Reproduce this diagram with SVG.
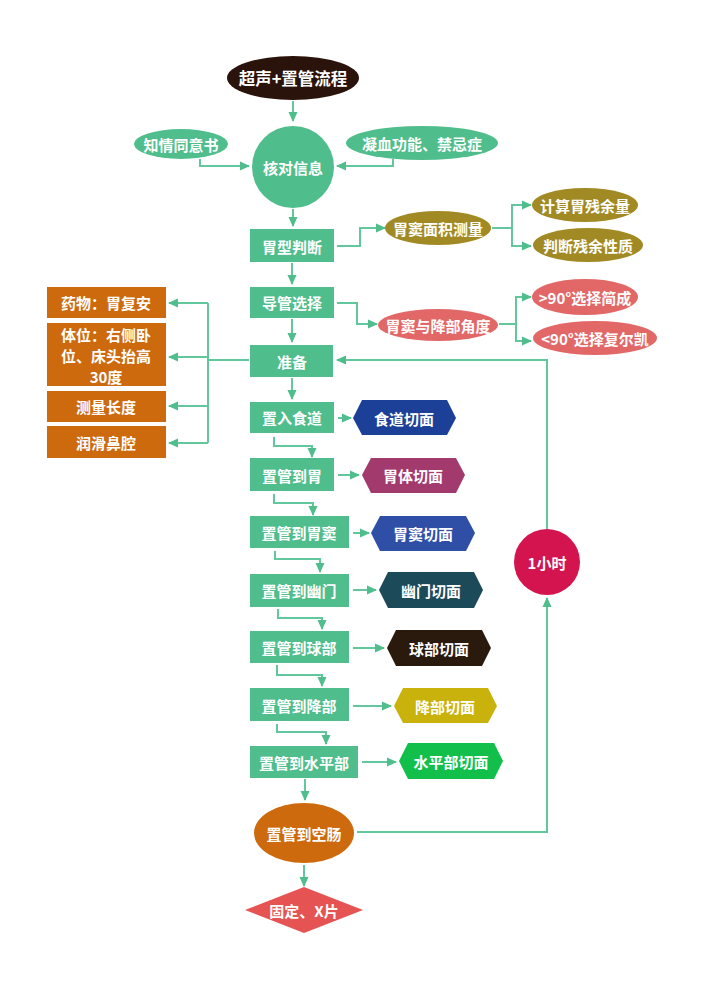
<svg xmlns="http://www.w3.org/2000/svg" width="706" height="988" viewBox="0 0 706 988">
<style>
text{font-family:"Noto Sans CJK SC","Noto Sans",sans-serif;font-weight:bold;font-size:15px;fill:#ffffff;text-anchor:middle;dominant-baseline:central}
.big{font-size:16.5px}
.g{fill:#4fbd8c}
.o{fill:#cd6a0d}
.ol{fill:#a18a24}
.pk{fill:#e26868}
.c{fill:none;stroke:#62c79d;stroke-width:2}
.ca{fill:none;stroke:#62c79d;stroke-width:2;marker-end:url(#ah)}
</style>
<defs>
<marker id="ah" viewBox="0 0 10 10" refX="9" refY="5" markerWidth="10" markerHeight="10" markerUnits="userSpaceOnUse" orient="auto"><path d="M0,0.5 L10,5 L0,9.5 z" fill="#4fbd8c"/></marker>
</defs>
<rect width="706" height="988" fill="#ffffff"/>
<g id="connectors">
<path class="ca" d="M293,101 L293,121"/>
<path class="ca" d="M200,159 L200,166 L249,166"/>
<path class="ca" d="M393,159 L393,166 L337,166"/>
<path class="ca" d="M293,209 L293,226"/>
<path class="ca" d="M292,263 L292,284"/>
<path class="ca" d="M292,319 L292,342"/>
<path class="ca" d="M292,378 L292,399"/>
<path class="ca" d="M337,246 L360,246 L360,228 L385,228"/>
<path class="ca" d="M492,228 L512,228 L512,205 L531,205"/>
<path class="ca" d="M512,228 L512,246 L531,246"/>
<path class="ca" d="M337,303 L357,303 L357,324 L377,324"/>
<path class="ca" d="M499,324 L516,324 L516,297 L531,297"/>
<path class="ca" d="M516,324 L516,341 L531,341"/>
<path class="c" d="M249,360 L208,360"/>
<path class="c" d="M208,303 L208,443"/>
<path class="ca" d="M208,303 L169,303"/>
<path class="ca" d="M208,357 L169,357"/>
<path class="ca" d="M208,406 L169,406"/>
<path class="ca" d="M208,443 L169,443"/>
<path class="ca" d="M338,418 L351,418"/>
<path class="ca" d="M338,475 L359,475"/>
<path class="ca" d="M353,533 L369,533"/>
<path class="ca" d="M353,590 L376,590"/>
<path class="ca" d="M353,648 L384,648"/>
<path class="ca" d="M353,706 L391,706"/>
<path class="ca" d="M362,762 L396,762"/>
<path class="ca" d="M274,437 L274,446 L312,446 L312,457"/>
<path class="ca" d="M274,494 L274,503 L313,503 L313,515"/>
<path class="ca" d="M275,551 L275,559 L320,559 L320,572"/>
<path class="ca" d="M278,609 L278,618 L322,618 L322,629"/>
<path class="ca" d="M277,665 L277,675 L322,675 L322,686"/>
<path class="ca" d="M277,724 L277,732 L326,732 L326,744"/>
<path class="ca" d="M305,779 L305,800"/>
<path class="ca" d="M357,832 L547,832 L547,598"/>
<path class="ca" d="M547,529 L547,360 L337,360"/>
<path class="ca" d="M304,865 L304,886"/>
</g>
<g id="n-start"><ellipse cx="293" cy="78" rx="66" ry="22" fill="#2a130a"/><text class="big" x="293" y="78">超声+置管流程</text></g>
<g id="n-consent"><ellipse cx="181" cy="144" rx="47" ry="15" class="g"/><text x="181" y="144">知情同意书</text></g>
<g id="n-coag"><ellipse cx="422" cy="143" rx="76" ry="17" class="g"/><text x="422" y="143">凝血功能、禁忌症</text></g>
<g id="n-check"><circle cx="293" cy="167" r="41" class="g"/><text x="293" y="167">核对信息</text></g>
<g id="n-type"><rect x="250" y="229" width="84" height="33" class="g"/><text x="292" y="246">胃型判断</text></g>
<g id="n-area"><ellipse cx="438" cy="228" rx="53" ry="17" class="ol"/><text x="438" y="228">胃窦面积测量</text></g>
<g id="n-calc"><ellipse cx="585" cy="205" rx="53" ry="17" class="ol"/><text x="585" y="205">计算胃残余量</text></g>
<g id="n-judge"><ellipse cx="588" cy="245" rx="55" ry="17" class="ol"/><text x="588" y="245">判断残余性质</text></g>
<g id="n-cath"><rect x="250" y="287" width="84" height="31" class="g"/><text x="292" y="302">导管选择</text></g>
<g id="n-angle"><ellipse cx="438" cy="325" rx="60" ry="16" class="pk"/><text x="438" y="325">胃窦与降部角度</text></g>
<g id="n-gt90"><ellipse cx="585" cy="297" rx="53" ry="18" class="pk"/><text x="585" y="297">&gt;90°选择简成</text></g>
<g id="n-lt90"><ellipse cx="595" cy="338" rx="62" ry="17" class="pk"/><text x="595" y="338">&lt;90°选择复尔凯</text></g>
<g id="n-prep"><rect x="250" y="345" width="83" height="32" class="g"/><text x="292" y="361">准备</text></g>
<g id="n-drug"><rect x="47" y="287" width="119" height="31" class="o"/><text x="106" y="302">药物：胃复安</text></g>
<g id="n-pos"><rect x="47" y="323" width="119" height="63" class="o"/><text x="106" y="334">体位：右侧卧</text><text x="106" y="355">位、床头抬高</text><text x="106" y="376">30度</text></g>
<g id="n-len"><rect x="47" y="391" width="119" height="31" class="o"/><text x="106" y="406">测量长度</text></g>
<g id="n-lub"><rect x="47" y="426" width="119" height="32" class="o"/><text x="106" y="442">润滑鼻腔</text></g>
<g id="n-eso"><rect x="250" y="402" width="84" height="31" class="g"/><text x="292" y="417">置入食道</text></g>
<g id="h-eso"><polygon points="353,418 362,400 447,400 456,418 447,435 362,435" fill="#1c3f98"/><text x="404" y="418">食道切面</text></g>
<g id="n-stom"><rect x="250" y="458" width="84" height="33" class="g"/><text x="292" y="475">置管到胃</text></g>
<g id="h-stom"><polygon points="362,475 371,458 456,458 465,475 456,493 371,493" fill="#a23a6e"/><text x="413" y="475">胃体切面</text></g>
<g id="n-antrum"><rect x="250" y="516" width="99" height="32" class="g"/><text x="299" y="532">置管到胃窦</text></g>
<g id="h-antrum"><polygon points="371,533 380,516 466,516 475,533 466,551 380,551" fill="#2f4ea6"/><text x="423" y="533">胃窦切面</text></g>
<g id="n-pylorus"><rect x="250" y="574" width="99" height="33" class="g"/><text x="299" y="590">置管到幽门</text></g>
<g id="h-pylorus"><polygon points="379,590 388,572 474,572 483,590 474,608 388,608" fill="#1d4a59"/><text x="431" y="590">幽门切面</text></g>
<g id="n-bulb"><rect x="250" y="631" width="99" height="32" class="g"/><text x="299" y="647">置管到球部</text></g>
<g id="h-bulb"><polygon points="387,648 396,630 482,630 491,648 482,666 396,666" fill="#2a1a0e"/><text x="439" y="648">球部切面</text></g>
<g id="n-desc"><rect x="250" y="688" width="99" height="33" class="g"/><text x="299" y="705">置管到降部</text></g>
<g id="h-desc"><polygon points="394,706 403,688 488,688 497,706 488,723 403,723" fill="#cab20c"/><text x="445" y="706">降部切面</text></g>
<g id="n-horiz"><rect x="250" y="746" width="108" height="32" class="g"/><text x="304" y="762">置管到水平部</text></g>
<g id="h-horiz"><polygon points="399,761 408,743 494,743 503,761 494,779 408,779" fill="#12bf4b"/><text x="451" y="761">水平部切面</text></g>
<g id="n-jej"><ellipse cx="304" cy="833" rx="50" ry="30" fill="#cd6a0d"/><text x="304" y="833">置管到空肠</text></g>
<g id="n-hour"><circle cx="547" cy="562" r="33" fill="#d3144f"/><text x="547" y="562">1小时</text></g>
<g id="n-fix"><polygon points="245,910 304,887 363,910 304,933" fill="#e55353"/><text x="304" y="910">固定、X片</text></g>
</svg>
